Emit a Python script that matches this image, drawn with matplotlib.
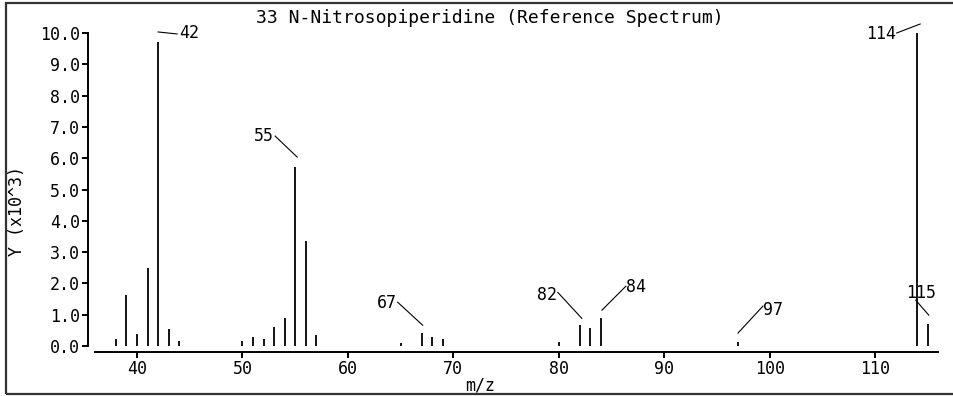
import matplotlib
matplotlib.use("Agg")
import matplotlib.pyplot as plt
from matplotlib.transforms import offset_copy
from matplotlib.patches import Rectangle
from matplotlib.lines import Line2D

# ---- data ----
mz = [38, 39, 40, 41, 42, 43, 44, 50, 51, 52, 53, 54, 55, 56, 57,
      65, 67, 68, 69, 80, 82, 83, 84, 97, 114, 115]
intensity = [0.21, 1.62, 0.40, 2.48, 9.72, 0.53, 0.15, 0.15, 0.29, 0.22, 0.60, 0.89, 5.73, 3.34, 0.35,
             0.09, 0.41, 0.30, 0.21, 0.14, 0.66, 0.59, 0.89, 0.14, 10.0, 0.70]
labeled_peaks = [42, 55, 67, 82, 84, 97, 114, 115]
x_ticks = [40, 50, 60, 70, 80, 90, 100, 110]
y_ticks = [0, 1, 2, 3, 4, 5, 6, 7, 8, 9, 10]
title = "33 N-Nitrosopiperidine (Reference Spectrum)"
xlabel = "m/z"
ylabel = "Y (x10^3)"

# label layout: (line start dx,dy), (line end dx,dy), (text dx,dy), ha  -- in pixels from peak top
label_layout = {
    42: ((0, 9.8), (19, 7.8), (21, 8.5), "left"),
    55: ((2, 9.6), (-20, 30.6), (-21, 30.6), "right"),
    67: ((1, 8), (-24, 31), (-25, 30), "right"),
    82: ((2, 7), (-22, 33), (-23, 30), "right"),
    84: ((1, 8), (25, 32), (25, 31), "left"),
    97: ((0, 8.6), (25, 35.6), (25, 31.6), "left"),
    114: ((3, 9), (-20.5, 0), (-21, -1), "right"),
    115: ((1, 9), (-12, 24), (-7, 31), "center"),
}

FONT = "DejaVu Sans Mono"
W, H = 954, 396
fig = plt.figure(figsize=(W / 100, H / 100), dpi=100)
fig.patch.set_facecolor("white")

left_px, right_px = 88.5, 938.3
bot_px, top_px = 352, 33
ax = fig.add_axes([left_px / W, 1 - bot_px / H, (right_px - left_px) / W, (bot_px - top_px) / H])
ax.set_xlim(35.4, 116)
ax.set_ylim(-0.19, 10.0)

ax.vlines(mz, 0, intensity, colors="black", linewidth=1.3)

for s in ["top", "right"]:
    ax.spines[s].set_visible(False)
ax.spines["left"].set_bounds(0, 10)
ax.spines["bottom"].set_bounds(36, 116)
ax.spines["left"].set_linewidth(1.4)
ax.spines["bottom"].set_linewidth(1.4)

ax.set_xticks(x_ticks)
ax.set_xticklabels([str(t) for t in x_ticks], fontfamily=FONT, fontsize=12)
ax.set_yticks(y_ticks)
ax.set_yticklabels([f"{t:.1f}" for t in y_ticks], fontfamily=FONT, fontsize=12)
ax.tick_params(axis="both", direction="out", length=4, width=1.4, pad=2)

for p in labeled_peaks:
    h = intensity[mz.index(p)]
    (sx, sy), (ex, ey), (tx, ty), ha = label_layout[p]
    t1 = offset_copy(ax.transData, fig=fig, x=sx, y=sy, units="dots")
    t2 = offset_copy(ax.transData, fig=fig, x=ex, y=ey, units="dots")
    x1, y1 = t1.transform((p, h))
    x2, y2 = t2.transform((p, h))
    fig.add_artist(Line2D([x1, x2], [y1, y2], transform=None, color="black", linewidth=0.8))
    tt = offset_copy(ax.transData, fig=fig, x=tx, y=ty, units="dots")
    ax.text(p, h, str(p), transform=tt, ha=ha, va="center", fontfamily=FONT,
            fontsize=12, clip_on=False)

fig.text(490 / W, 1 - 18 / H, title, ha="center", va="center", fontfamily=FONT, fontsize=13)
fig.text(480 / W, 1 - 386 / H, xlabel, ha="center", va="center", fontfamily=FONT, fontsize=12)
fig.text(17 / W, 1 - 211 / H, ylabel, ha="center", va="center", rotation=90,
         fontfamily=FONT, fontsize=12)

fig.add_artist(Rectangle((6 / W, 1 - 394 / H), 1000 / W, (394 - 3) / H, transform=fig.transFigure,
                         fill=False, edgecolor="#333333", linewidth=1.6))

fig.savefig("out.png", dpi=100)
